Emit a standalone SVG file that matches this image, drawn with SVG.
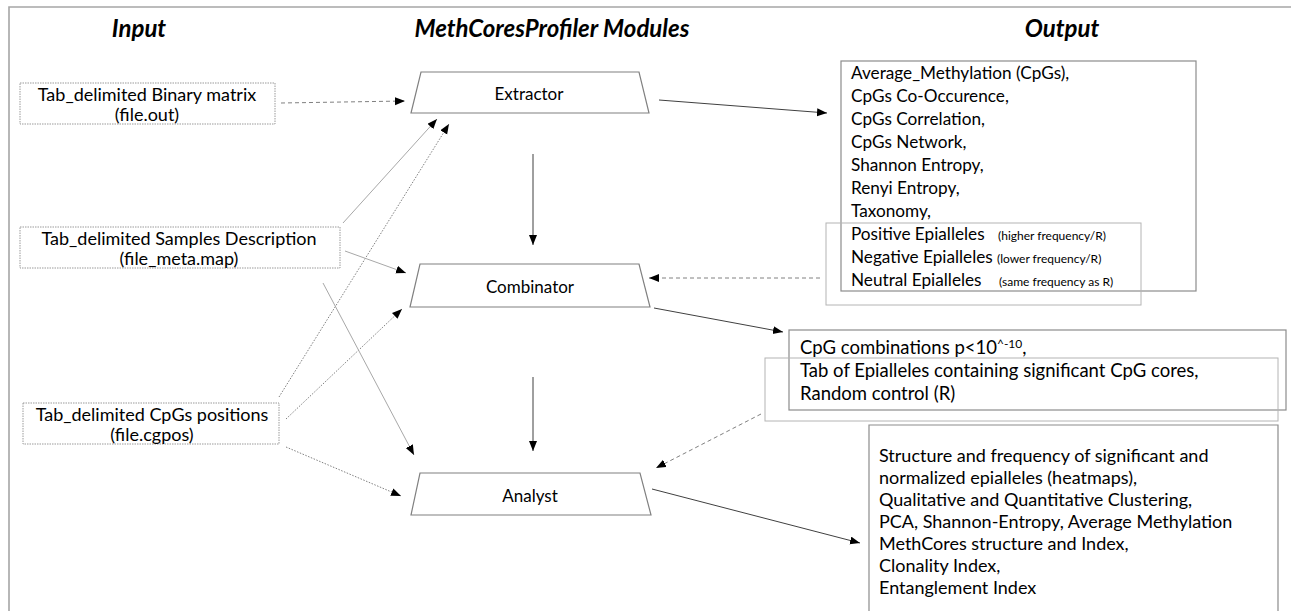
<svg xmlns="http://www.w3.org/2000/svg" width="1291" height="611" viewBox="0 0 1291 611">
<style>
text{font-family:Lato,"Open Sans","Liberation Sans",sans-serif;fill:#000}
.hd{font-size:24px;font-weight:bold;font-style:italic;text-anchor:middle}
.in{font-size:18px;text-anchor:middle}
.mod{font-size:17px;text-anchor:middle}
.out{font-size:17.2px}
.o2{font-size:18.5px}
.o3{font-size:18px}
.sm{font-size:12px}
.inbox{fill:none;stroke:#9a9a9a;stroke-width:1;stroke-dasharray:1.5 1}
.trap{fill:#fff;stroke:#808080;stroke-width:1.2}
.obox{fill:none;stroke:#8c8c8c;stroke-width:1.2}
.ibox{fill:none;stroke:#b4b4b4;stroke-width:1}
.c-solid{stroke:#404040;stroke-width:1;fill:none}
.c-gray{stroke:#a8a8a8;stroke-width:1;fill:none}
.c-dot{stroke:#808080;stroke-width:1;stroke-dasharray:1.5 1.5;fill:none}
.c-dash{stroke:#808080;stroke-width:1;stroke-dasharray:4 3;fill:none}
</style>
<defs>
<marker id="ah" markerUnits="userSpaceOnUse" markerWidth="11" markerHeight="9" refX="10" refY="4" orient="auto" viewBox="0 0 11 9">
<path d="M0,0 L10,4 L0,8 z" fill="#000"/>
</marker>
</defs>
<rect width="1291" height="611" fill="#fff"/>
<g id="frame">
<path d="M9,611 V7 H1291" fill="none" stroke="#a6a6a6" stroke-width="1.6"/>
</g>
<g id="headers">
<text class="hd" x="139" y="37">Input</text>
<text class="hd" x="552" y="37">MethCoresProfiler Modules</text>
<text class="hd" x="1062" y="37">Output</text>
</g>
<g id="connectors">
<line class="c-dash" x1="281" y1="103" x2="405" y2="101" marker-end="url(#ah)"/>
<line class="c-solid" x1="659" y1="100" x2="827" y2="113" marker-end="url(#ah)"/>
<line class="c-gray" x1="343" y1="223" x2="437" y2="119" marker-end="url(#ah)"/>
<line class="c-dot" x1="279" y1="397" x2="449" y2="124" marker-end="url(#ah)"/>
<line class="c-gray" x1="345" y1="251" x2="406" y2="273" marker-end="url(#ah)"/>
<line class="c-dot" x1="286" y1="419" x2="402" y2="309" marker-end="url(#ah)"/>
<line class="c-gray" x1="323" y1="283" x2="414" y2="455" marker-end="url(#ah)"/>
<line class="c-dot" x1="286" y1="447" x2="401" y2="496" marker-end="url(#ah)"/>
<line class="c-solid" x1="533" y1="154" x2="533" y2="245" marker-end="url(#ah)"/>
<line class="c-solid" x1="533" y1="377" x2="533" y2="451" marker-end="url(#ah)"/>
<line class="c-solid" x1="654" y1="308" x2="783" y2="332" marker-end="url(#ah)"/>
<line class="c-dash" x1="820" y1="278" x2="649" y2="278" marker-end="url(#ah)"/>
<line class="c-dash" x1="761" y1="414" x2="656" y2="468" marker-end="url(#ah)"/>
<line class="c-solid" x1="652" y1="489" x2="860" y2="543" marker-end="url(#ah)"/>
</g>
<g id="input1">
<rect class="inbox" x="20" y="83" width="255" height="41"/>
<text class="in" x="147" y="101">Tab_delimited Binary matrix</text>
<text class="in" x="147" y="121">(file.out)</text>
</g>
<g id="input2">
<rect class="inbox" x="20" y="227" width="320" height="41"/>
<text class="in" x="179" y="245">Tab_delimited Samples Description</text>
<text class="in" x="179" y="265">(file_meta.map)</text>
</g>
<g id="input3">
<rect class="inbox" x="23" y="403" width="256" height="41"/>
<text class="in" x="152" y="421">Tab_delimited CpGs positions</text>
<text class="in" x="152" y="441">(file.cgpos)</text>
</g>
<g id="extractor">
<polygon class="trap" points="421,72 639,72 649,113 411,113"/>
<text class="mod" x="529" y="100">Extractor</text>
</g>
<g id="combinator">
<polygon class="trap" points="420,264 639,264 650,307 410,307"/>
<text class="mod" x="530" y="293">Combinator</text>
</g>
<g id="analyst">
<polygon class="trap" points="420,473 640,473 651,515 411,515"/>
<text class="mod" x="530" y="502">Analyst</text>
</g>
<g id="output1">
<rect class="obox" x="841" y="61" width="355" height="230"/>
<rect class="ibox" x="826" y="223" width="315" height="82"/>
<text class="out" x="851" y="79">Average_Methylation (CpGs),</text>
<text class="out" x="851" y="102">CpGs Co-Occurence,</text>
<text class="out" x="851" y="125">CpGs Correlation,</text>
<text class="out" x="851" y="148">CpGs Network,</text>
<text class="out" x="851" y="171">Shannon Entropy,</text>
<text class="out" x="851" y="194">Renyi Entropy,</text>
<text class="out" x="851" y="217">Taxonomy,</text>
<text class="out" x="851" y="240">Positive Epialleles <tspan class="sm" x="998">(higher frequency/R)</tspan></text>
<text class="out" x="851" y="263">Negative Epialleles <tspan class="sm" x="997">(lower frequency/R)</tspan></text>
<text class="out" x="851" y="286">Neutral Epialleles <tspan class="sm" x="999">(same frequency as R)</tspan></text>
</g>
<g id="output2">
<rect class="obox" x="789" y="330" width="497" height="80"/>
<rect class="ibox" x="765" y="358" width="513" height="63"/>
<text class="o2" x="800" y="354">CpG combinations p&lt;10<tspan class="sm" dy="-6">^-10</tspan><tspan dy="6">,</tspan></text>
<text class="o2" x="800" y="377">Tab of Epialleles containing significant CpG cores,</text>
<text class="o2" x="800" y="400">Random control (R)</text>
</g>
<g id="output3">
<path class="obox" d="M869,612 V425 H1278 V612"/>
<text class="o3" x="879" y="462">Structure and frequency of significant and</text>
<text class="o3" x="879" y="484">normalized epialleles (heatmaps),</text>
<text class="o3" x="879" y="506">Qualitative and Quantitative Clustering,</text>
<text class="o3" x="879" y="528">PCA, Shannon-Entropy, Average Methylation</text>
<text class="o3" x="879" y="550">MethCores structure and Index,</text>
<text class="o3" x="879" y="572">Clonality Index,</text>
<text class="o3" x="879" y="594">Entanglement Index</text>
</g>
</svg>
